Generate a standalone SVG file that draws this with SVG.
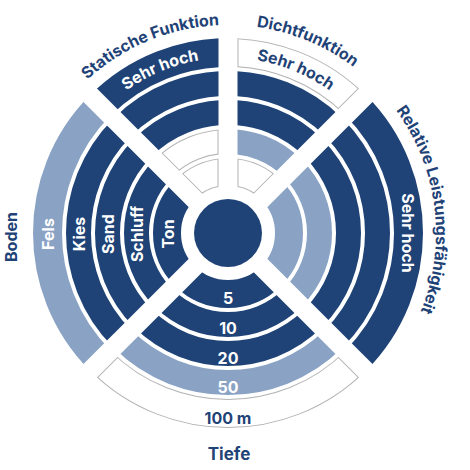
<svg xmlns="http://www.w3.org/2000/svg" width="470" height="470" viewBox="0 0 470 470">
<style>
.dk{fill:none;stroke:#1f4377}
.lt{fill:none;stroke:#8aa3c5}
.og{fill:none;stroke:#b3b3b3}
.ow{fill:none;stroke:#fff}
.w1{stroke-width:28}.w2{stroke-width:25}.w3{stroke-width:25}.w4{stroke-width:25}.w5{stroke-width:29}
.i1{stroke-width:26}.i5{stroke-width:27}.i2{stroke-width:23}
text{font-family:Inter,"Liberation Sans",Arial,sans-serif;font-weight:700;font-size:16px}
.wt{fill:#fff}
.nt{fill:#1f4377}
.big{font-size:17px}
</style>
<defs>
<clipPath id="cTL"><polygon points="218.5,210.07 218.5,-500 -491.57,-500"/></clipPath>
<clipPath id="cTR"><polygon points="237.5,210.07 237.5,-500 947.57,-500"/></clipPath>
<clipPath id="cR"><polygon points="241.44,233 900,-425.57 900,891.57"/></clipPath>
<clipPath id="cB"><polygon points="228,246.44 881.57,900 -425.57,900"/></clipPath>
<clipPath id="cL"><polygon points="214.57,233 -500,-481.57 -500,947.57"/></clipPath>
<clipPath id="iTL"><polygon points="217.5,207.65 217.5,-500 -490.15,-500"/></clipPath>
<clipPath id="iTR"><polygon points="238.5,207.65 238.5,-500 946.15,-500"/></clipPath>
<clipPath id="iB"><polygon points="228,247.85 880.15,900 -424.15,900"/></clipPath>
<path id="aTL5" d="M104.26,109.26 A175,175 0 0,1 228,58"/>
<path id="aTR5" d="M228,58 A175,175 0 0,1 351.74,109.26"/>
<path id="oTL" d="M80.92,85.92 A208,208 0 0,1 228,25"/>
<path id="oTR" d="M228,25 A208,208 0 0,1 375.08,85.92"/>
<path id="oR" d="M332,52.87 A208,208 0 0,1 372.5,382.61"/>
</defs>

<g id="center"><circle cx="228" cy="233" r="34" fill="#1f4377"/></g>

<g id="statische-funktion">
  <g clip-path="url(#cTL)">
    <circle class="og w1" cx="228" cy="233" r="61"/>
    <circle class="og w2" cx="228" cy="233" r="91.5"/>
    <circle class="dk w3" cx="228" cy="233" r="120.5"/>
    <circle class="dk w4" cx="228" cy="233" r="149.5"/>
    <circle class="dk w5" cx="228" cy="233" r="180.5"/>
  </g>
  <g clip-path="url(#iTL)">
    <circle class="ow i1" cx="228" cy="233" r="61"/>
    <circle class="ow i2" cx="228" cy="233" r="91.5"/>
  </g>
  <text class="wt"><textPath href="#aTL5" startOffset="50%" text-anchor="middle">Sehr hoch</textPath></text>
  <text class="nt"><textPath href="#oTL" startOffset="50%" text-anchor="middle">Statische Funktion</textPath></text>
</g>

<g id="dichtfunktion">
  <g clip-path="url(#cTR)">
    <circle class="og w1" cx="228" cy="233" r="61"/>
    <circle class="lt w2" cx="228" cy="233" r="91.5"/>
    <circle class="dk w3" cx="228" cy="233" r="120.5"/>
    <circle class="dk w4" cx="228" cy="233" r="149.5"/>
    <circle class="og w5" cx="228" cy="233" r="180.5"/>
  </g>
  <g clip-path="url(#iTR)">
    <circle class="ow i1" cx="228" cy="233" r="61"/>
    <circle class="ow i5" cx="228" cy="233" r="180.5"/>
  </g>
  <text class="nt"><textPath href="#aTR5" startOffset="50%" text-anchor="middle">Sehr hoch</textPath></text>
  <text class="nt"><textPath href="#oTR" startOffset="50%" text-anchor="middle">Dichtfunktion</textPath></text>
</g>

<g id="relative-leistungsfaehigkeit">
  <g clip-path="url(#cR)">
    <circle class="lt w1" cx="228" cy="233" r="61"/>
    <circle class="lt w2" cx="228" cy="233" r="91.5"/>
    <circle class="dk w3" cx="228" cy="233" r="120.5"/>
    <circle class="dk w4" cx="228" cy="233" r="149.5"/>
    <circle class="dk w5" cx="228" cy="233" r="180.5"/>
  </g>
  <text class="wt" transform="translate(402,233) rotate(90)" text-anchor="middle">Sehr hoch</text>
  <text class="nt"><textPath href="#oR" startOffset="50%" text-anchor="middle">Relative Leistungsfähigkeit</textPath></text>
</g>

<g id="tiefe">
  <g clip-path="url(#cB)">
    <circle class="dk w1" cx="228" cy="233" r="61"/>
    <circle class="dk w2" cx="228" cy="233" r="91.5"/>
    <circle class="dk w3" cx="228" cy="233" r="120.5"/>
    <circle class="lt w4" cx="228" cy="233" r="149.5"/>
    <circle class="og w5" cx="228" cy="233" r="180.5"/>
  </g>
  <g clip-path="url(#iB)">
    <circle class="ow i5" cx="228" cy="233" r="180.5"/>
  </g>
  <g text-anchor="middle">
    <text class="wt" x="228" y="304">5</text>
    <text class="wt" x="228" y="334">10</text>
    <text class="wt" x="228" y="363.5">20</text>
    <text class="wt" x="228" y="392.5">50</text>
    <text class="nt" x="228" y="423.5">100 m</text>
    <text class="nt big" x="229" y="460">Tiefe</text>
  </g>
</g>

<g id="boden">
  <g clip-path="url(#cL)">
    <circle class="dk w1" cx="228" cy="233" r="61"/>
    <circle class="dk w2" cx="228" cy="233" r="91.5"/>
    <circle class="dk w3" cx="228" cy="233" r="120.5"/>
    <circle class="dk w4" cx="228" cy="233" r="149.5"/>
    <circle class="lt w5" cx="228" cy="233" r="180.5"/>
  </g>
  <g text-anchor="middle">
    <text class="wt" transform="translate(53.5,234) rotate(-90)">Fels</text>
    <text class="wt" transform="translate(84.5,234) rotate(-90)">Kies</text>
    <text class="wt" transform="translate(113.5,234) rotate(-90)">Sand</text>
    <text class="wt" transform="translate(142.5,234) rotate(-90)">Schluff</text>
    <text class="wt" transform="translate(173.5,234) rotate(-90)">Ton</text>
    <text class="nt" transform="translate(17,237) rotate(-90)">Boden</text>
  </g>
</g>
</svg>
